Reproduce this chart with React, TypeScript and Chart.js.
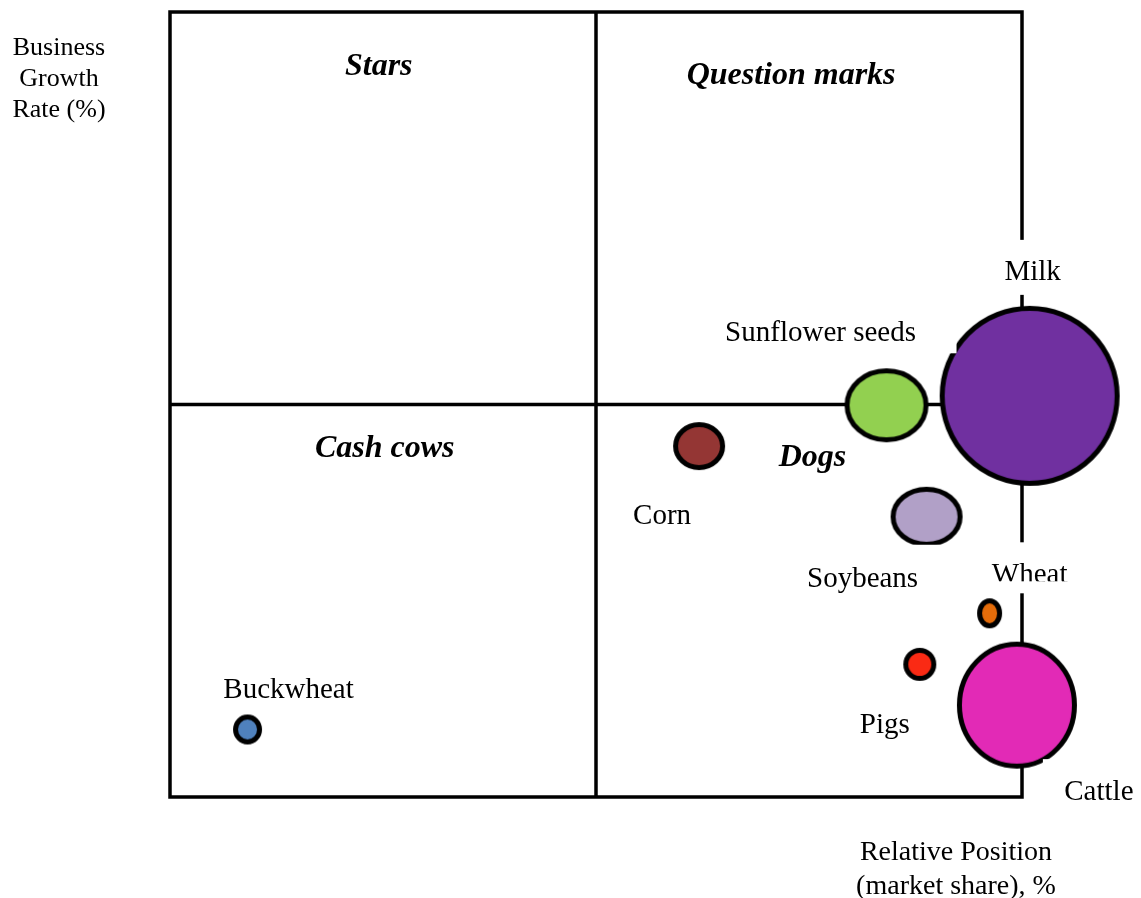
import React, { useEffect, useRef } from "react";
import { Chart, registerables } from "chart.js";

Chart.register(...registerables);

// ---- data ----
const categories = ["Milk", "Sunflower seeds", "Corn", "Soybeans", "Wheat", "Pigs", "Cattle", "Buckwheat"];
const marketShare = [100.9, 84.1, 62.1, 88.8, 96.2, 88.0, 99.4, 9.1];
const growthRate = [51.1, 49.9, 44.7, 35.7, 23.4, 16.9, 11.7, 8.6];
const radiusX = [90, 42, 26, 36, 12.5, 16.5, 60, 14.5];
const radiusY = [90, 37, 24, 30, 15, 16.5, 63.5, 15];
const bubbleColors = ["#7030A0", "#92D050", "#943634", "#B1A0C7", "#E46C0A", "#FA2A14", "#E22AB6", "#4F81BD"];

const quadrantNames = ["Stars", "Question marks", "Cash cows", "Dogs"];
const quadrantX = [24.5, 72.9, 25.2, 75.4];
const quadrantY = [93.4, 92.2, 44.8, 43.6];

const yAxisTitle = ["Business", "Growth", "Rate (%)"];
const xAxisTitle = ["Relative Position", "(market share), %"];

// ---- layout (pixels) ----
const labelOffsets: [number, number][] = [
  [3, -123], [-66, -72], [-37, 70], [-64, 63], [40, -38], [-35, 61], [82, 87], [41, -39],
];
// white label boxes (relative to label centre): [dx1, dy1, dx2, dy2]
const labelBoxes: (number[] | null)[] = [
  [-35, -33, 35, 22], [-100, -33, 136, 20], null, [-62, -35, 98, 20], [-35, -33, 35, 15], null, [-56, -33, 40, 20], null,
];
const SERIF = "'Liberation Serif', 'Times New Roman', serif";

function ellipseCanvas(rx: number, ry: number, fill: string): HTMLCanvasElement {
  const bw = 5;
  const c = document.createElement("canvas");
  c.width = Math.ceil(rx * 2) + 2;
  c.height = Math.ceil(ry * 2) + 2;
  const ctx = c.getContext("2d")!;
  ctx.beginPath();
  ctx.ellipse(c.width / 2, c.height / 2, rx - bw / 2, ry - bw / 2, 0, 0, Math.PI * 2);
  ctx.fillStyle = fill;
  ctx.fill();
  ctx.lineWidth = bw;
  ctx.strokeStyle = "#000";
  ctx.stroke();
  return c;
}

const matrixPlugin = {
  id: "bcgMatrix",
  beforeDatasetsDraw(chart: any) {
    const { ctx, scales } = chart;
    const xs = scales.x, ys = scales.y;
    const x0 = xs.getPixelForValue(0), x1 = xs.getPixelForValue(50), x2 = xs.getPixelForValue(100);
    const y0 = ys.getPixelForValue(0), y1 = ys.getPixelForValue(50), y2 = ys.getPixelForValue(100);
    ctx.save();
    ctx.strokeStyle = "#000";
    ctx.lineWidth = 3.5;
    ctx.lineCap = "square";
    ctx.beginPath();
    ctx.rect(x0, y2, x2 - x0, y0 - y2);
    ctx.moveTo(x1, y2);
    ctx.lineTo(x1, y0);
    ctx.moveTo(x0, y1);
    ctx.lineTo(x2, y1);
    ctx.stroke();

    // quadrant names
    ctx.fillStyle = "#000";
    ctx.font = `italic bold 32px ${SERIF}`;
    ctx.textAlign = "center";
    ctx.textBaseline = "middle";
    quadrantNames.forEach((n, i) => {
      ctx.fillText(n, xs.getPixelForValue(quadrantX[i]), ys.getPixelForValue(quadrantY[i]) + 3);
    });

    // axis titles
    ctx.font = `26px ${SERIF}`;
    yAxisTitle.forEach((t, i) => ctx.fillText(t, 59, 48 + i * 31));
    ctx.font = `28px ${SERIF}`;
    xAxisTitle.forEach((t, i) => ctx.fillText(t, 956, 853 + i * 34));
    ctx.restore();
  },
  afterDatasetsDraw(chart: any) {
    const { ctx } = chart;
    const meta = chart.getDatasetMeta(0);
    ctx.save();
    ctx.font = `29px ${SERIF}`;
    ctx.textAlign = "center";
    ctx.textBaseline = "middle";
    categories.forEach((name, i) => {
      const el = meta.data[i];
      const lx = el.x + labelOffsets[i][0];
      const ly = el.y + labelOffsets[i][1];
      const b = labelBoxes[i];
      if (b) {
        ctx.fillStyle = "#fff";
        ctx.fillRect(lx + b[0], ly + b[1], b[2] - b[0], b[3] - b[1]);
      }
      ctx.fillStyle = "#000";
      ctx.fillText(name, lx, ly);
      if (name === "Wheat") {
        ctx.fillStyle = "#fff";
        ctx.fillRect(lx - 40, ly + 6, 80, 12);
      }
    });
    ctx.restore();
  },
};

export default function App() {
  const ref = useRef<HTMLCanvasElement>(null);
  useEffect(() => {
    if (!ref.current) return;
    const styles = categories.map((_, i) => ellipseCanvas(radiusX[i], radiusY[i], bubbleColors[i]));
    const chart = new Chart(ref.current, {
      type: "bubble",
      data: {
        datasets: [
          {
            label: "Products",
            data: categories.map((_, i) => ({ x: marketShare[i], y: growthRate[i], r: Math.max(radiusX[i], radiusY[i]) })),
            pointStyle: styles as any,
            backgroundColor: bubbleColors,
            borderColor: "#000",
            borderWidth: 4,
            clip: false as any,
          },
        ],
      },
      options: {
        responsive: false,
        animation: false,
        layout: { autoPadding: false, padding: { left: 170, top: 12, right: 119, bottom: 101 } },
        plugins: { legend: { display: false }, tooltip: { enabled: false } },
        scales: {
          x: { type: "linear", min: 0, max: 100, display: false },
          y: { type: "linear", min: 0, max: 100, display: false },
        },
      },
      plugins: [matrixPlugin],
    });
    return () => chart.destroy();
  }, []);
  return (
    <div style={{ position: "absolute", left: 0, top: 0, width: 1141, height: 898, background: "#fff" }}>
      <canvas ref={ref} width={1141} height={898} />
    </div>
  );
}
